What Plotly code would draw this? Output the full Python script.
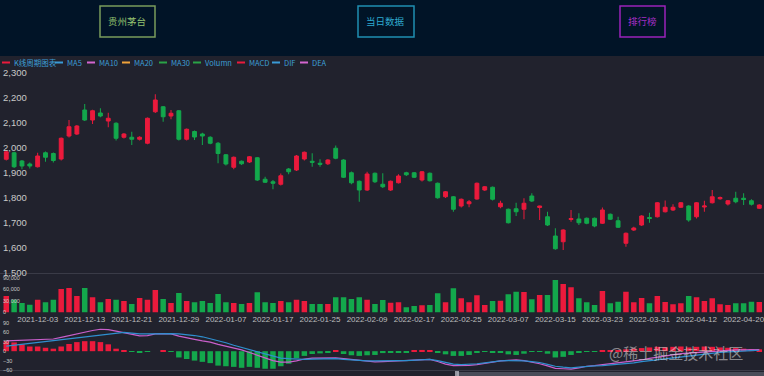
import plotly.graph_objects as go

dates = [
    "2021-11-29", "2021-11-30", "2021-12-01", "2021-12-02", "2021-12-03", "2021-12-06", "2021-12-07",
    "2021-12-08", "2021-12-09", "2021-12-10", "2021-12-13", "2021-12-14", "2021-12-15", "2021-12-16",
    "2021-12-17", "2021-12-20", "2021-12-21", "2021-12-22", "2021-12-23", "2021-12-24", "2021-12-27",
    "2021-12-28", "2021-12-29", "2021-12-30", "2021-12-31", "2022-01-04", "2022-01-05", "2022-01-06",
    "2022-01-07", "2022-01-10", "2022-01-11", "2022-01-12", "2022-01-13", "2022-01-14", "2022-01-17",
    "2022-01-18", "2022-01-19", "2022-01-20", "2022-01-21", "2022-01-24", "2022-01-25", "2022-01-26",
    "2022-01-27", "2022-01-28", "2022-02-07", "2022-02-08", "2022-02-09", "2022-02-10", "2022-02-11",
    "2022-02-14", "2022-02-15", "2022-02-16", "2022-02-17", "2022-02-18", "2022-02-21", "2022-02-22",
    "2022-02-23", "2022-02-24", "2022-02-25", "2022-02-28", "2022-03-01", "2022-03-02", "2022-03-03",
    "2022-03-04", "2022-03-07", "2022-03-08", "2022-03-09", "2022-03-10", "2022-03-11", "2022-03-14",
    "2022-03-15", "2022-03-16", "2022-03-17", "2022-03-18", "2022-03-21", "2022-03-22", "2022-03-23",
    "2022-03-24", "2022-03-25", "2022-03-28", "2022-03-29", "2022-03-30", "2022-03-31", "2022-04-01",
    "2022-04-06", "2022-04-07", "2022-04-08", "2022-04-11", "2022-04-12", "2022-04-13", "2022-04-14",
    "2022-04-15", "2022-04-18", "2022-04-19", "2022-04-20", "2022-04-21", "2022-04-22",
]

open_ = [1955, 1981, 1948, 1936, 1925, 1981, 1978, 1956, 2048, 2056,
         2152, 2112, 2140, 2108, 2099, 2043, 2043, 2035, 2019, 2145,
         2165, 2128, 2149, 2035, 2066, 2056, 2043, 2019, 1973, 1923,
         1947, 1944, 1961, 1875, 1865, 1855, 1916, 1912, 1956, 1947,
         1939, 1937, 1999, 1952, 1901, 1867, 1832, 1899, 1855, 1832,
         1861, 1901, 1901, 1872, 1899, 1859, 1805, 1805, 1768, 1777,
         1796, 1832, 1843, 1765, 1755, 1757, 1755, 1808, 1762, 1725,
         1648, 1625, 1714, 1716, 1719, 1719, 1699, 1735, 1709, 1619,
         1672, 1692, 1722, 1725, 1745, 1752, 1763, 1768, 1725, 1764,
         1781, 1797, 1776, 1799, 1799, 1789, 1759]
close = [1985, 1925, 1928, 1928, 1968, 1963, 1950, 2039, 2085, 2088,
         2112, 2149, 2128, 2119, 2039, 2056, 2035, 2043, 2119, 2192,
         2125, 2139, 2035, 2075, 2044, 2048, 2019, 1978, 1936, 1963,
         1937, 1965, 1872, 1863, 1859, 1889, 1905, 1968, 1983, 1943,
         1935, 1952, 1959, 1883, 1861, 1832, 1896, 1865, 1845, 1867,
         1888, 1893, 1883, 1905, 1869, 1801, 1825, 1755, 1795, 1785,
         1859, 1845, 1795, 1779, 1701, 1745, 1779, 1788, 1768, 1692,
         1597, 1672, 1718, 1701, 1699, 1688, 1752, 1715, 1683, 1659,
         1680, 1728, 1718, 1781, 1763, 1763, 1781, 1712, 1781, 1768,
         1805, 1802, 1789, 1785, 1794, 1775, 1772]
high = [1990, 1985, 1952, 1942, 1981, 1986, 1982, 2042, 2112, 2092,
        2176, 2153, 2159, 2141, 2103, 2060, 2065, 2047, 2122, 2215,
        2168, 2152, 2152, 2078, 2070, 2061, 2047, 2024, 1976, 1966,
        1950, 1968, 1964, 1885, 1872, 1898, 1920, 1972, 1986, 1979,
        1955, 1955, 2010, 1955, 1906, 1870, 1905, 1902, 1899, 1870,
        1895, 1905, 1904, 1908, 1902, 1862, 1828, 1808, 1798, 1792,
        1862, 1848, 1846, 1789, 1758, 1781, 1799, 1819, 1769, 1745,
        1679, 1675, 1752, 1739, 1722, 1722, 1762, 1738, 1725, 1662,
        1685, 1731, 1741, 1784, 1790, 1775, 1784, 1771, 1784, 1789,
        1832, 1806, 1792, 1825, 1819, 1795, 1775]
low = [1950, 1920, 1915, 1918, 1922, 1945, 1942, 1950, 2042, 2052,
       2108, 2096, 2123, 2083, 2030, 2038, 2012, 2030, 2015, 2140,
       2105, 2115, 2030, 2030, 2032, 2012, 2015, 1939, 1930, 1915,
       1932, 1940, 1868, 1860, 1835, 1850, 1895, 1908, 1950, 1925,
       1925, 1932, 1955, 1880, 1855, 1785, 1828, 1860, 1840, 1828,
       1858, 1888, 1880, 1866, 1866, 1797, 1800, 1745, 1762, 1763,
       1793, 1828, 1790, 1759, 1698, 1728, 1715, 1784, 1712, 1688,
       1593, 1592, 1705, 1692, 1695, 1683, 1696, 1712, 1680, 1605,
       1668, 1688, 1701, 1722, 1742, 1748, 1760, 1705, 1718, 1745,
       1778, 1793, 1770, 1779, 1772, 1770, 1756]

volume = [43000, 33000, 25000, 20000, 33000, 27000, 33000, 61000, 64000, 43000,
          64000, 40000, 27000, 35000, 33000, 30000, 22000, 38000, 33000, 59000,
          35000, 25000, 51000, 30000, 27000, 30000, 25000, 48000, 27000, 25000,
          22000, 25000, 53000, 27000, 25000, 30000, 27000, 33000, 30000, 22000,
          22000, 22000, 40000, 40000, 35000, 40000, 33000, 22000, 32600, 25700,
          26500, 13500, 17000, 18700, 19600, 50000, 26500, 63000, 37000, 26500,
          44800, 19600, 30000, 30900, 47500, 54400, 53500, 34400, 45700, 45700,
          84800, 74400, 65700, 37000, 26500, 19600, 56100, 23900, 28300, 54400,
          26500, 37800, 23900, 43000, 27400, 21300, 23900, 43000, 39600, 30000,
          37000, 21300, 19600, 23900, 23900, 28300, 27400]

macd_hist = [32, 28, 22, 15, 15, 11, 8, 15, 23, 29,
             32, 32, 29, 22, 8, 1, -2, -3, -1, 0,
             1, -1, -20, -25, -30, -34, -38, -46, -48, -50,
             -53, -50, -53, -56, -56, -48, -40, -22, -15, -9,
             -7, -5, 2, -9, -13, -15, -13, -12, -6, -5,
             -4, -3, 3, 4, 2, -5, -10, -15, -15, -12,
             -3, -2, -3, -4, -10, -12, -8, -2, -1, -8,
             -20, -18, -12, -5, -2, -1, 1, 2, 4, 6,
             8, 10, 12, 14, 12, 14, 15, 12, 14, 15,
             14, 12, 11, 10, 8, 7, 6]

line_pink = [33, 34, 35, 36, 37, 38, 39, 44, 50, 56,
             62, 66, 70, 69, 64, 59, 55, 49, 50, 55,
             56, 55, 48, 42, 38, 33, 29, 22, 16, 11,
             4, -4, -13, -22, -30, -35, -35, -31, -25, -22,
             -21, -20, -21, -24, -27, -30, -33, -34, -33, -32,
             -31, -30, -28, -26, -26, -33, -41, -46, -46, -45,
             -43, -39, -34, -31, -29, -28, -30, -34, -40, -47,
             -55, -56, -57, -53, -48, -46, -43, -41, -39, -36,
             -32, -28, -23, -19, -15, -11, -8, -6, -4, -2,
             0, 1, 3, 4, 4, 5, 5]
line_blue = [16, 19, 21, 24, 27, 30, 34, 38, 41, 44,
             46, 49, 52, 55, 58, 60, 58, 55, 55, 56,
             57, 56, 55, 53, 50, 46, 40, 34, 27, 19,
             12, 5, -2, -9, -16, -22, -24, -26, -26, -25,
             -24, -23, -24, -26, -28, -30, -31, -31, -30, -29,
             -30, -30, -28, -27, -26, -30, -36, -41, -43, -42,
             -40, -37, -33, -31, -30, -30, -31, -33, -36, -42,
             -48, -51, -53, -51, -48, -47, -46, -44, -42, -40,
             -37, -33, -30, -27, -24, -20, -17, -14, -11, -9,
             -6, -4, -2, 0, 1, 2, 3]

tick_dates = dates[4::6]

UP = "#eb1a3c"
DOWN = "#13a84c"
BG = "#21222d"
HEADER = "#011427"
W, H = 764, 376

def py(pix):
    return 1 - pix / H

def px(pix):
    return pix / W

vol_colors = [UP if c >= o else DOWN for o, c in zip(open_, close)]
hist_colors = [UP if v >= 0 else DOWN for v in macd_hist]

fig = go.Figure()
fig.add_trace(go.Candlestick(
    x=dates, open=open_, high=high, low=low, close=close, name="K线周期图表",
    increasing=dict(line=dict(color=UP, width=1), fillcolor=UP),
    decreasing=dict(line=dict(color=DOWN, width=1), fillcolor=DOWN),
    whiskerwidth=0, xaxis="x", yaxis="y", showlegend=False,
))
fig.add_trace(go.Bar(x=dates, y=volume, marker=dict(color=vol_colors, line=dict(width=0)),
                     name="Volumn", xaxis="x2", yaxis="y2", showlegend=False))
fig.add_trace(go.Bar(x=dates, y=macd_hist, marker=dict(color=hist_colors, line=dict(width=0)),
                     name="MACD", xaxis="x3", yaxis="y3", showlegend=False))
fig.add_trace(go.Scatter(x=dates, y=line_pink, mode="lines", name="DEA",
                         line=dict(color="#c95fcb", width=1.2), xaxis="x3", yaxis="y3", showlegend=False))
fig.add_trace(go.Scatter(x=dates, y=line_blue, mode="lines", name="DIF",
                         line=dict(color="#2f8fcf", width=1.2), xaxis="x3", yaxis="y3", showlegend=False))

axis_line = "#3a3b47"
xr = [-0.8, 96.6]
common_x = dict(type="category", range=xr, showgrid=False, zeroline=False, fixedrange=True,
                automargin=False)
common_y = dict(showgrid=False, zeroline=False, automargin=False, fixedrange=True,
                ticklabelposition="inside", ticklabeloverflow="allow")

fig.update_layout(
    width=W, height=H, margin=dict(l=0, r=0, t=0, b=0, pad=0, autoexpand=False),
    paper_bgcolor=BG, plot_bgcolor=BG,
    bargap=0.3, boxgap=0.3,
    font=dict(family="Liberation Sans, Noto Sans CJK SC", color="#c4c4c4"),
    xaxis=dict(**common_x, domain=[0, 1], anchor="y", showticklabels=False,
               showline=True, linecolor=axis_line, linewidth=1, rangeslider=dict(visible=False)),
    yaxis=dict(**common_y, domain=[py(273), py(73)], range=[1500, 2300],
               tickvals=list(range(1500, 2301, 100)), tickformat=",d",
               tickfont=dict(size=9.5, color="#c8c8c8"), anchor="x"),
    xaxis2=dict(**common_x, domain=[0, 1], anchor="y2", matches="x", showticklabels=True,
                tickmode="array", tickvals=tick_dates, ticktext=tick_dates, ticks="",
                tickfont=dict(size=8, color="#bdbdbd"), showline=False),
    yaxis2=dict(**common_y, domain=[py(312.5), py(278)], range=[0, 90000],
                tickvals=[0, 30000, 60000, 90000], tickformat=",d",
                tickfont=dict(size=5.5, color="#c8c8c8"), anchor="x2"),
    xaxis3=dict(**common_x, domain=[0, 1], anchor="y3", matches="x", showticklabels=False,
                showline=True, linecolor=axis_line, linewidth=1),
    yaxis3=dict(**common_y, domain=[py(370), py(323)], range=[-60, 90],
                tickvals=[-60, -30, 0, 30, 60, 90],
                tickfont=dict(size=5.5, color="#c8c8c8"), anchor="x3"),
)

shapes = []
annotations = []
# header band
shapes.append(dict(type="rect", xref="paper", yref="paper", x0=0, x1=1, y0=py(56), y1=1,
                   fillcolor=HEADER, line=dict(width=0), layer="below"))
buttons = [("贵州茅台", 100, 155, "#7a9c5c", "#93c06f"),
           ("当日数据", 358, 414, "#1f8eb3", "#2eaad0"),
           ("排行榜", 620, 665, "#9b22bb", "#a42ec4")]
for text, x0, x1, border, tcol in buttons:
    shapes.append(dict(type="rect", xref="paper", yref="paper", x0=px(x0), x1=px(x1),
                       y0=py(37), y1=py(6), line=dict(color=border, width=1.5)))
    annotations.append(dict(x=px((x0 + x1) / 2), y=py(21.5), xref="paper", yref="paper",
                            xanchor="center", yanchor="middle",
                            text=text, showarrow=False, font=dict(size=9.5, color=tcol,
                            family="Noto Sans CJK SC")))

# legend row
legend_items = [("K线周期图表", UP, 2), ("MA5", "#3a9ad6", 55), ("MA10", "#d465cf", 87),
                ("MA20", "#f0a23a", 122), ("MA30", "#2aa347", 159), ("Volumn", "#2aa347", 193),
                ("MACD", UP, 237), ("DIF", "#3a9ad6", 272), ("DEA", "#d465cf", 300)]
for text, color, x0 in legend_items:
    shapes.append(dict(type="line", xref="paper", yref="paper", x0=px(x0), x1=px(x0 + 8),
                       y0=py(62.5), y1=py(62.5), line=dict(color=color, width=2)))
    annotations.append(dict(x=px(x0 + 10), y=py(62.5), xref="paper", yref="paper", text=text,
                            showarrow=False, xanchor="left", yanchor="middle",
                            font=dict(size=7.5, color="#3d9fd6", family="Noto Sans CJK SC")))

# data zoom strip at the bottom
shapes.append(dict(type="rect", xref="paper", yref="paper", x0=px(457), x1=1, y0=0, y1=py(372),
                   fillcolor="rgba(150,155,170,0.35)", line=dict(width=0)))
shapes.append(dict(type="rect", xref="paper", yref="paper", x0=px(455), x1=px(459), y0=0, y1=py(371),
                   fillcolor="rgba(200,200,210,0.7)", line=dict(width=0)))

# watermark
annotations.append(dict(x=px(676), y=py(352), xref="paper", yref="paper", text="@稀土掘金技术社区",
                        xanchor="center", yanchor="middle",
                        showarrow=False, font=dict(size=15, color="rgba(225,225,225,0.55)",
                        family="Noto Sans CJK SC")))

fig.update_layout(shapes=shapes, annotations=annotations)
fig.write_html("out.html", config={"displayModeBar": False},
               post_script="document.body.style.margin='0';")
